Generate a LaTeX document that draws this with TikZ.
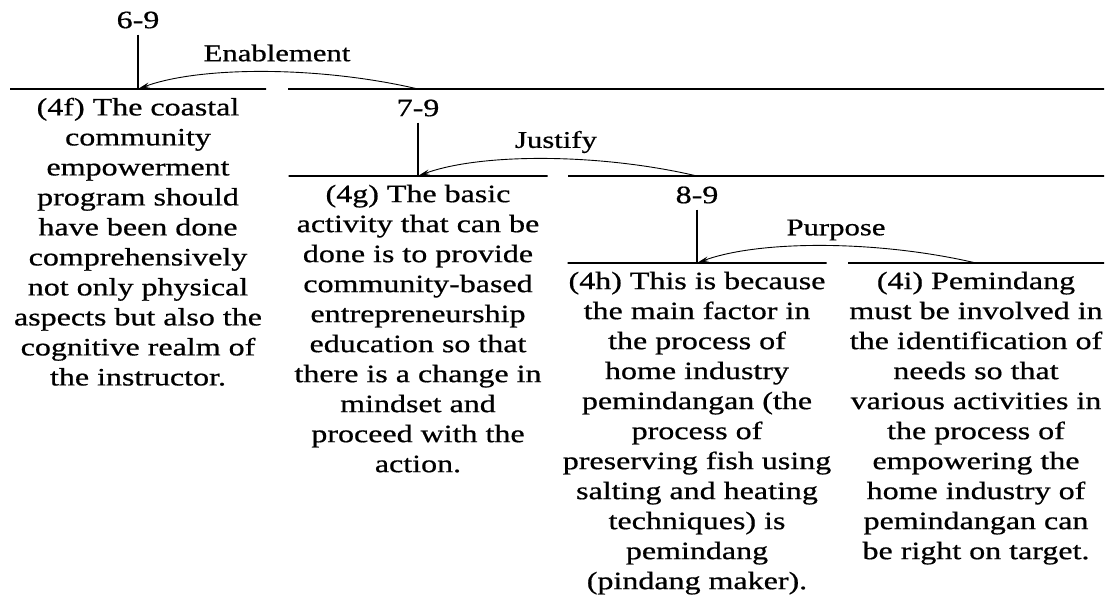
\documentclass[tikz,border=0pt]{standalone}
\usepackage{fontspec}
\setmainfont{Liberation Serif}[FakeStretch=1.28, FakeBold=0.7]
\usetikzlibrary{shapes, arrows.meta, positioning}

\newcommand{\edusize}{\fontsize{25}{30}\selectfont}
\newcommand{\relsize}{\fontsize{24}{28}\selectfont}

\begin{document}
\begin{tikzpicture}[x=1pt, y=-1pt, node distance=8pt,
    bar/.style={draw, rectangle, inner sep=0pt, minimum height=0pt, line width=1.2pt},
    edu/.style={align=center, inner sep=0pt, font=\edusize},
    spanlabel/.style={font=\edusize, inner sep=6pt},
    rellabel/.style={font=\relsize, inner sep=0pt},
    stem/.style={line width=1.2pt},
    relarrow/.style={-{Stealth[length=12pt, width=5pt]}, line width=0.9pt}]
    \useasboundingbox (0,0) rectangle (1106,599);

    % Define nodes
    \node (s69) [spanlabel] at (138,20) {6-9};
    \node (b4f) [bar, minimum width=256pt] at (138,89) {};
    \node (b79) [bar, minimum width=816pt] at (696,89) {};
    \node (s79) [spanlabel] at (418,108) {7-9};
    \node (b4g) [bar, minimum width=259pt] at (418,176) {};
    \node (b89) [bar, minimum width=536pt] at (836,176) {};
    \node (s89) [spanlabel] at (697,195) {8-9};
    \node (b4h) [bar, minimum width=259pt] at (697,263) {};
    \node (b4i) [bar, minimum width=256pt] at (976,263) {};

    \node (t4f) [edu, below=of b4f] {(4f) The coastal\\ community\\ empowerment\\ program should\\ have been done\\ comprehensively\\ not only physical\\ aspects but also the\\ cognitive realm of\\ the instructor.};
    \node (t4g) [edu, below=of b4g] {(4g) The basic\\ activity that can be\\ done is to provide\\ community-based\\ entrepreneurship\\ education so that\\ there is a change in\\ mindset and\\ proceed with the\\ action.};
    \node (t4h) [edu, below=of b4h] {(4h) This is because\\ the main factor in\\ the process of\\ home industry\\ pemindangan (the\\ process of\\ preserving fish using\\ salting and heating\\ techniques) is\\ pemindang\\ (pindang maker).};
    \node (t4i) [edu, below=of b4i] {(4i) Pemindang\\ must be involved in\\ the identification of\\ needs so that\\ various activities in\\ the process of\\ empowering the\\ home industry of\\ pemindangan can\\ be right on target.};

    \node (lenab) [rellabel] at (277,53) {Enablement};
    \node (ljust) [rellabel] at (556,142) {Justify};
    \node (lpurp) [rellabel] at (836,230) {Purpose};

    % Connect nodes
    \draw[stem] (s69) -- (b4f);
    \draw[stem] (s79) -- (b4g);
    \draw[stem] (s89) -- (b4h);
    \draw[relarrow] (s79 |- b79) .. controls +(-98,-23) and +(62,-23) .. (b4f.center);
    \draw[relarrow] (s89 |- b89) .. controls +(-98,-23) and +(62,-23) .. (b4g.center);
    \draw[relarrow] (b4i.center) .. controls +(-98,-23) and +(62,-23) .. (b4h.center);
\end{tikzpicture}
\end{document}
